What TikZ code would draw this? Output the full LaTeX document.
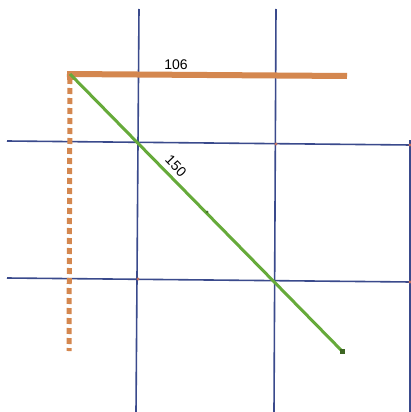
\documentclass[tikz,border=0pt]{standalone}
\usepackage{fontspec}
\setmainfont{Liberation Sans}
\usetikzlibrary{positioning, calc}
\definecolor{gridblue}{HTML}{3A4A8C}
\definecolor{rodorange}{HTML}{D4874F}
\definecolor{diaggreen}{HTML}{66AA3A}
\definecolor{dotred}{HTML}{C07060}

\begin{document}
\begin{tikzpicture}[x=1pt, y=-1pt, line cap=butt,
  gridline/.style={gridblue, line width=1.6pt},
  label/.style={font=\fontsize{14}{14}\selectfont, inner sep=0pt}]

% Frame
\useasboundingbox (0,0) rectangle (411,412);
\fill[white] (0,0) rectangle (411,412);

%% Grid
\coordinate (v1t) at (139,9);   \coordinate (v1b) at (136,412);
\coordinate (v2t) at (276,9);   \coordinate (v2b) at (274,412);
\coordinate (v3t) at (410,140); \coordinate (v3b) at (410,412);
\coordinate (h1l) at (7,141);   \coordinate (h1r) at (411,145);
\coordinate (h2l) at (7,278);   \coordinate (h2r) at (411,282);
\draw[gridline] (v1t) -- (v1b);
\draw[gridline] (v2t) -- (v2b);
\draw[gridline] (v3t) -- (v3b);
\draw[gridline] (h1l) -- (h1r);
\draw[gridline] (h2l) -- (h2r);

%% Orange side (106) and dashed drop
\coordinate (corner) at (70,74);
\coordinate (topend) at (347,76);
\coordinate (dropend) at (69,351);
\draw[rodorange, line width=6pt] ($(corner)+(-3,0)$) -- (topend);
\draw[rodorange, line width=5pt, dash pattern=on 6pt off 4pt] (70,78) -- (dropend);
\fill[rodorange] (corner) ++(-3,-3) rectangle ++(7,9);

%% Green diagonal (150)
\coordinate (diagend) at (342,351);
\draw[diaggreen, line width=3pt] (corner) -- (diagend);

% Intersection dots
\fill[dotred] (276,144) circle (1.6pt);
\fill[dotred] (138,279) circle (1.6pt);
\fill[dotred] (410,145) circle (1.6pt);
\fill[dotred] (410,282) circle (1.6pt);
\fill[diaggreen!70!black] (207,212) circle (1.5pt);
\fill[diaggreen!60!black] (diagend) ++(-2.5,-2.5) rectangle ++(5,5);

% Labels
\node[label] (lab106) at (176,65) {106};
\node[label, rotate=-46] (lab150) at (176,166) {150};

\end{tikzpicture}
\end{document}
